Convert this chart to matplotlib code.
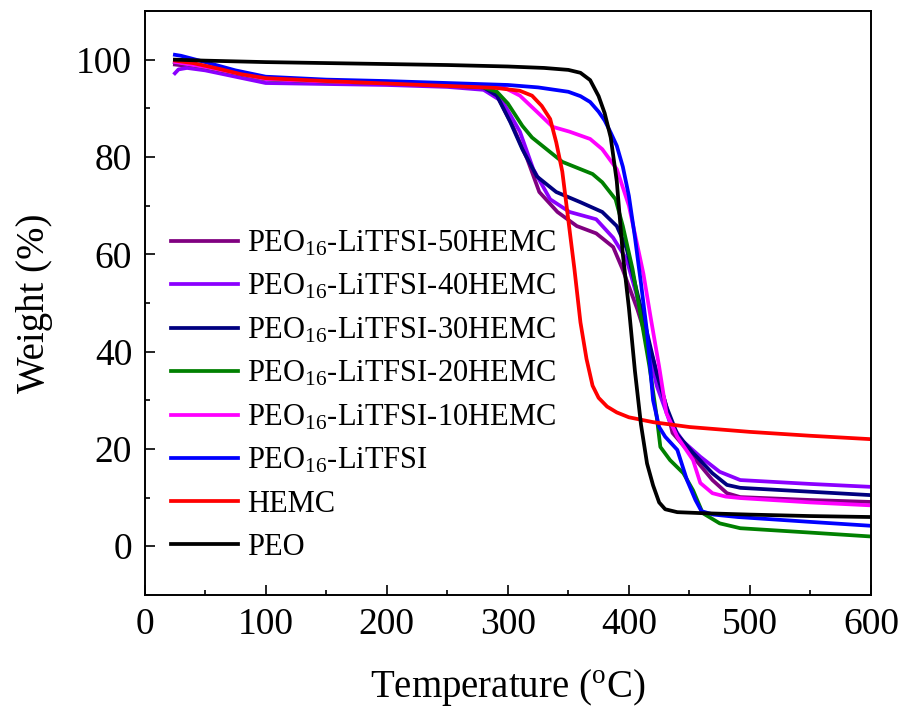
import matplotlib
matplotlib.use('Agg')
import matplotlib.pyplot as plt
from matplotlib.ticker import MultipleLocator

plt.rcParams['font.family'] = ['Liberation Serif', 'DejaVu Serif']
plt.rcParams['mathtext.fontset'] = 'custom'
plt.rcParams['mathtext.rm'] = 'Liberation Serif'
plt.rcParams['mathtext.default'] = 'regular'

# TGA curves: temperature (oC) and weight (%)
t_50 = [25, 50, 100, 150, 200, 250, 280, 291, 304, 316, 326, 341, 357, 373, 387, 395, 407, 420, 431, 436, 453, 469, 481, 492, 550, 600]
w_50 = [99, 98.3, 96, 95.5, 95.2, 94.6, 94, 92.6, 86.4, 79.6, 72.8, 68.7, 65.8, 64.3, 61.5, 56.8, 48.7, 38.4, 28.7, 23.3, 18.4, 13.6, 10.9, 10.1, 9.5, 9.1]

t_40 = [25, 28, 35, 50, 100, 150, 200, 250, 280, 296, 310, 321, 335, 351, 373, 387, 398, 406, 415, 423, 434, 445, 459, 475, 492, 550, 600]
w_40 = [97.2, 98, 98.3, 97.8, 95.2, 95, 94.8, 94.4, 93.8, 91.3, 85.2, 77.5, 71.3, 68.7, 67.2, 63.4, 59, 52, 42, 33, 25.4, 21.5, 18.4, 15.3, 13.6, 12.8, 12.2]

t_30 = [25, 50, 100, 150, 200, 250, 280, 291, 302, 312, 324, 340, 360, 378, 390, 398, 406, 415, 423, 431, 440, 453, 469, 481, 492, 550, 600]
w_30 = [99.5, 98.5, 96, 95.5, 95.2, 94.8, 94.3, 92.6, 87.2, 81.6, 76, 72.8, 70.7, 68.7, 65.8, 61.3, 53, 43.9, 35.5, 28.7, 23, 19.2, 15, 12.6, 12, 11.2, 10.5]

t_20 = [25, 50, 100, 150, 200, 250, 280, 291, 300, 312, 320, 330, 345, 360, 370, 378, 389, 395, 403, 410, 417, 423, 426, 434, 445, 453, 461, 475, 492, 550, 600]
w_20 = [99.5, 98.5, 96, 95.5, 95.2, 94.8, 94.3, 93.4, 91, 86.4, 84, 82, 79, 77.5, 76.5, 74.8, 71.3, 65.8, 57, 47, 36.9, 26.6, 20.4, 17.7, 15, 11.5, 6.8, 4.7, 3.7, 2.8, 2.0]

t_10 = [25, 50, 100, 150, 200, 250, 280, 296, 310, 324, 337, 351, 368, 378, 390, 400, 406, 412, 418, 425, 431, 440, 453, 459, 469, 480, 492, 550, 600]
w_10 = [99.5, 98.5, 96, 95.5, 95.2, 94.8, 94.6, 94.4, 92.6, 89.3, 86.2, 85.2, 83.7, 81.6, 77.5, 70, 63, 56, 47, 36.9, 27.4, 22.5, 17.7, 13, 10.9, 10.2, 9.9, 9.0, 8.4]

t_li = [25, 30, 50, 75, 100, 150, 200, 250, 300, 325, 350, 360, 368, 375, 380, 385, 390, 395, 400, 405, 410, 415, 420, 425, 430, 440, 448, 455, 460, 470, 490, 550, 600]
w_li = [101, 100.8, 99.5, 97.8, 96.5, 95.9, 95.6, 95.2, 94.8, 94.3, 93.4, 92.5, 91.3, 89.3, 87.5, 85, 82.3, 78, 72, 63.5, 54, 44, 30, 24.5, 22.5, 19.8, 13.6, 9.5, 7.2, 6.5, 6, 5, 4.2]

t_hemc = [25, 40, 60, 80, 100, 150, 200, 250, 290, 310, 320, 328, 335, 340, 345, 350, 355, 360, 365, 370, 375, 382, 390, 400, 420, 450, 500, 550, 600]
w_hemc = [99.8, 99.3, 98.2, 97, 96.2, 95.6, 95.1, 94.6, 94.2, 93.6, 92.6, 90.5, 87.8, 83, 77, 67, 57, 46, 38.5, 33, 30.5, 28.7, 27.5, 26.5, 25.5, 24.5, 23.5, 22.7, 22]

t_peo = [25, 50, 100, 150, 200, 250, 300, 330, 350, 360, 368, 375, 380, 385, 390, 395, 400, 405, 410, 415, 420, 425, 430, 440, 460, 500, 550, 600]
w_peo = [100, 99.8, 99.5, 99.3, 99.1, 98.9, 98.6, 98.3, 97.9, 97.3, 95.8, 92.5, 89, 84, 75, 60, 49, 36, 25, 17, 12.5, 9, 7.6, 7.0, 6.8, 6.5, 6.2, 6.0]

series = [
    (t_50, w_50, 'PEO$_{16}$-LiTFSI-50HEMC', '#800080'),
    (t_40, w_40, 'PEO$_{16}$-LiTFSI-40HEMC', '#8B00FF'),
    (t_30, w_30, 'PEO$_{16}$-LiTFSI-30HEMC', '#000080'),
    (t_20, w_20, 'PEO$_{16}$-LiTFSI-20HEMC', '#008000'),
    (t_10, w_10, 'PEO$_{16}$-LiTFSI-10HEMC', '#FF00FF'),
    (t_li, w_li, 'PEO$_{16}$-LiTFSI', '#0000FF'),
    (t_hemc, w_hemc, 'HEMC', '#FF0000'),
    (t_peo, w_peo, 'PEO', '#000000'),
]

fig = plt.figure(figsize=(9.04, 7.15), dpi=100)
ax = fig.add_axes([0.160, 0.168, 0.8035, 0.8166])

for t, w, lab, col in series:
    ax.plot(t, w, color=col, lw=2.7, label=lab)

ax.set_xlim(0, 600)
ax.set_ylim(-10, 110)
ax.xaxis.set_major_locator(MultipleLocator(100))
ax.xaxis.set_minor_locator(MultipleLocator(50))
ax.yaxis.set_major_locator(MultipleLocator(20))
ax.yaxis.set_minor_locator(MultipleLocator(10))
ax.tick_params(which='both', direction='in', labelsize=27, width=1.2, pad=9)
ax.tick_params(which='major', length=7)
ax.tick_params(which='minor', length=3.6)
for s in ax.spines.values():
    s.set_linewidth(1.4)

ax.set_xlabel('Temperature ($^{o}$C)', fontsize=28, labelpad=18)
ax.set_ylabel('Weight (%)', fontsize=28, labelpad=17)

ax.legend(loc='lower left', bbox_to_anchor=(0.015, 0.03), frameon=False,
          fontsize=22, handlelength=2.2, handletextpad=0.3, labelspacing=0.46,
          borderpad=0)

fig.savefig('out.png', dpi=100)
